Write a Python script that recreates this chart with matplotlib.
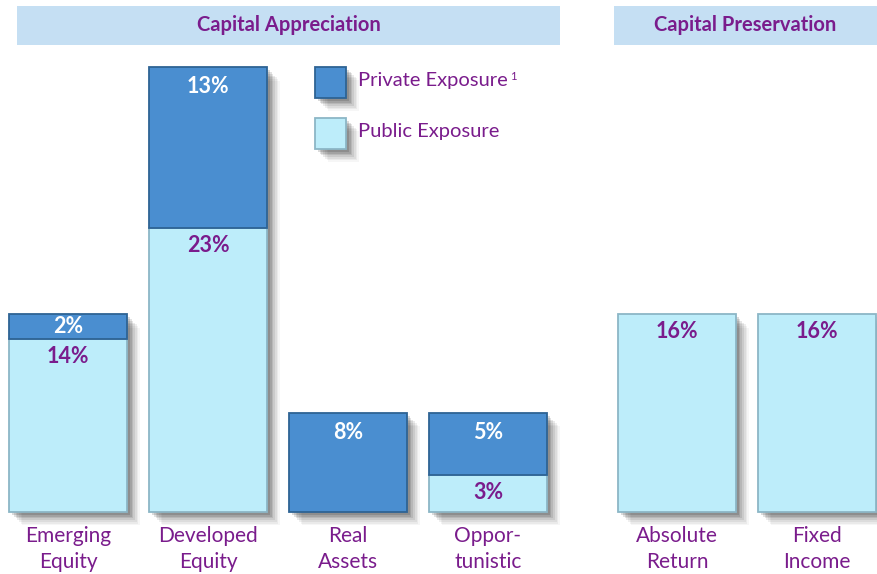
import matplotlib
matplotlib.use("Agg")
import matplotlib.pyplot as plt
from matplotlib.patches import Rectangle

categories = ["Emerging\nEquity", "Developed\nEquity", "Real\nAssets", "Oppor-\ntunistic", "Absolute\nReturn", "Fixed\nIncome"]
public = [14, 23, 0, 3, 16, 16]
private = [2, 13, 8, 5, 0, 0]
groups = ["Capital Appreciation", "Capital Preservation"]
legend_labels = ["Private Exposure", "Public Exposure"]

positions = [0, 1, 2, 3, 4.35, 5.35]
width = 0.84
PRIV = "#4a8ed0"
PUB = "#bdedfa"
PURPLE = "#7a1c8c"
HEAD = "#c5dff3"
FONT = "Lato"

fig = plt.figure(figsize=(8.77, 5.74), dpi=100)
ax = fig.add_axes([0, 0, 1, 1])
ppx = 12.35
ax.set_xlim(-0.486, 5.779)
ax.set_ylim(-(574 - 512) / ppx, 512 / ppx)
ax.axis("off")

def px(dx):
    return dx / 140.0

def py(dy):
    return dy / ppx

def shadow(x0, y0, w, h):
    for i, a in enumerate([0.16, 0.13, 0.11, 0.09, 0.07, 0.05, 0.04]):
        off = 3 + i * 1.7
        ax.add_patch(Rectangle((x0 + px(off), y0 - py(off)), w, h, facecolor="#202020",
                               edgecolor="none", alpha=a, zorder=1))

for x, pub, pri, cat in zip(positions, public, private, categories):
    x0 = x - width / 2
    total = pub + pri
    shadow(x0, 0, width, total)
    if pub > 0:
        ax.add_patch(Rectangle((x0, 0), width, pub, facecolor=PUB, edgecolor="#8cb6c6", lw=1.3, zorder=3))
        ytxt = pub - min(1.4, pub / 2)
        ax.text(x, ytxt, f"{pub}%", ha="center", va="center", color=PURPLE, fontsize=15.5,
                fontweight="bold", family=FONT, zorder=5)
    if pri > 0:
        ax.add_patch(Rectangle((x0, pub), width, pri, facecolor=PRIV, edgecolor="#2e6394", lw=1.3, zorder=3))
        ytxt = total - min(1.55, pri / 2)
        ax.text(x, ytxt, f"{pri}%", ha="center", va="center", color="white", fontsize=15.5,
                fontweight="bold", family=FONT, zorder=5)
    ax.text(x, -py(14), cat, ha="center", va="top", color=PURPLE, fontsize=15,
            family=FONT, linespacing=1.4)

# group headers
hy0, hy1 = 512 - 45, 512 - 6
ax.add_patch(Rectangle((px(17 - 68), py(hy0)), px(560 - 17), py(hy1 - hy0), facecolor=HEAD, edgecolor="none"))
ax.text(px((17 + 560) / 2 - 68), py((hy0 + hy1) / 2), groups[0], ha="center", va="center",
        color=PURPLE, fontsize=14.5, fontweight="bold", family=FONT)
ax.add_patch(Rectangle((px(614 - 68), py(hy0)), px(877 - 614), py(hy1 - hy0), facecolor=HEAD, edgecolor="none"))
ax.text(px((614 + 877) / 2 - 68), py((hy0 + hy1) / 2), groups[1], ha="center", va="center",
        color=PURPLE, fontsize=14.5, fontweight="bold", family=FONT)

# legend
for i, (lab, col, ec) in enumerate(zip(legend_labels, [PRIV, PUB], ["#2e6394", "#8cb6c6"])):
    top = 67 + i * 51
    lx0 = px(315 - 68)
    ly0 = py(512 - top - 31)
    shadow(lx0, ly0, px(31), py(31))
    ax.add_patch(Rectangle((lx0, ly0), px(31), py(31), facecolor=col, edgecolor=ec, lw=1.3, zorder=3))
    t = ax.text(px(358 - 68), py(512 - top - 14), lab, ha="left", va="center", color=PURPLE,
                fontsize=14.5, family=FONT)
    if i == 0:
        ax.annotate("1", xy=(1, 0.75), xycoords=t, xytext=(2, 0), textcoords="offset points",
                    ha="left", va="center", color=PURPLE, fontsize=8, family=FONT)

fig.savefig("out.png", dpi=100)
